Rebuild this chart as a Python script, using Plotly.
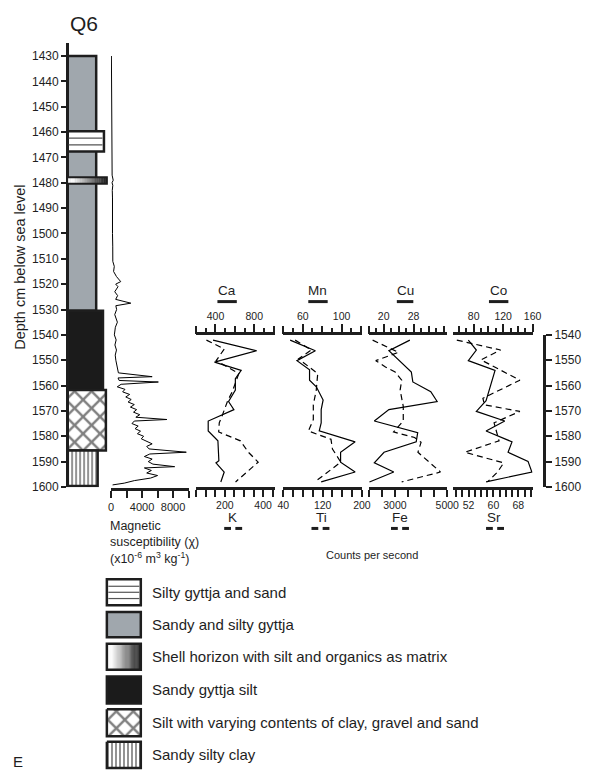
import plotly.graph_objects as go

W, H = 596, 778
INK = '#1e1e1e'
GRAY = '#a0a7ad'
FONT = 'Liberation Sans, Arial, sans-serif'


def px(x):
    return x / W


def py(y):
    return 1 - y / H


# ---------------- data ----------------
depth_ticks = list(range(1430, 1601, 10))
right_ticks = list(range(1540, 1601, 10))

mag_depth = [1430, 1435, 1440, 1445, 1450, 1455, 1460, 1462, 1465, 1468, 1470, 1472, 1475, 1477, 1479, 1480,
             1481, 1483, 1486, 1490, 1495, 1500, 1505, 1508, 1511, 1513, 1515, 1517, 1519, 1520, 1521, 1523,
             1524.5, 1526, 1527.5, 1528.5, 1530, 1532, 1535, 1537, 1540, 1542, 1544, 1546, 1548, 1550, 1552,
             1554, 1555, 1556.5, 1557, 1558, 1558.6, 1559.5, 1560.5, 1561.5, 1562.5, 1563.5, 1564.5, 1565.5,
             1566.5, 1567.5, 1568.5, 1569.5, 1570.5, 1571.5, 1572.5, 1573.4, 1574, 1575, 1576, 1577, 1578,
             1579, 1580, 1581, 1582, 1583, 1584, 1585, 1586.3, 1587, 1588, 1589, 1590, 1591, 1592, 1592.5,
             1593.5, 1594.5, 1595.5, 1596.5, 1597.5, 1598.5, 1599.2]
mag_val = [50, 60, 80, 70, 90, 100, 130, 80, 140, 110, 150, 120, 170, 140, 280, 130,
           230, 160, 190, 170, 200, 190, 220, 250, 230, 420, 330, 700, 1250, 600, 900, 480,
           850, 600, 2550, 620, 720, 480, 820, 560, 430, 660, 500, 700, 540, 620, 720,
           820, 950, 5300, 900, 1050, 6100, 1300, 800, 1800, 1500, 2400, 1900, 2600,
           2200, 3000, 2500, 3300, 2900, 3700, 3200, 7200, 3000, 2700, 3500, 3100, 3800,
           3400, 4200, 3900, 4500, 5300, 4600, 4900, 9700, 5000, 4300, 5300, 4800, 5400, 8200, 4300,
           5200, 4600, 6000, 5100, 3000, 1700, 200]

ca_depth = [1542.1, 1546.3, 1550.8, 1554.0, 1557.3, 1561.8, 1566.3, 1569.5, 1574.0, 1577.9, 1581.8, 1589.6, 1590.5, 1594.1, 1598.0]
ca_val = [375, 825, 390, 665, 605, 605, 535, 590, 325, 325, 425, 435, 405, 490, 455]
k_depth = [1542.1, 1545.6, 1550.2, 1555.3, 1562.4, 1566.0, 1571.5, 1574.7, 1578.3, 1581.8, 1586.3, 1590.2, 1598.0]
k_val = [104, 197, 155, 273, 239, 215, 188, 171, 168, 281, 323, 374, 256]

mn_depth = [1542.1, 1546.3, 1550.2, 1553.8, 1557.9, 1560.5, 1565.7, 1569.5, 1574.7, 1577.9, 1582.2, 1586.3, 1590.2, 1594.1, 1598.0]
mn_val = [47, 73, 54, 67, 67, 74, 81, 79, 79, 77, 114, 99, 99, 114, 79]
ti_depth = [1542.1, 1546.0, 1549.5, 1553.4, 1555.3, 1561.8, 1567.6, 1573.4, 1577.9, 1581.2, 1585.0, 1590.2, 1598.0]
ti_val = [64, 97, 71, 97, 110, 107, 101, 101, 91, 137, 140, 157, 104]

cu_depth = [1542.1, 1546.3, 1554.7, 1558.6, 1562.4, 1566.3, 1569.5, 1574.0, 1578.6, 1582.2, 1586.3, 1590.5, 1594.1, 1598.0]
cu_val = [27.0, 21.4, 27.4, 27.8, 32.6, 34.3, 21.4, 17.5, 29.1, 28.7, 20.1, 17.5, 22.7, 16.2]
fe_depth = [1542.1, 1546.9, 1550.2, 1552.7, 1554.7, 1557.9, 1561.8, 1568.2, 1574.0, 1578.3, 1580.5, 1582.4, 1586.3, 1594.1, 1598.0]
fe_val = [2150, 3140, 2270, 2640, 3010, 3260, 3200, 3320, 3320, 2950, 3750, 4000, 3880, 4740, 3260]

co_depth = [1542.1, 1546.0, 1550.2, 1554.0, 1566.0, 1570.2, 1574.0, 1577.9, 1582.2, 1586.3, 1589.9, 1594.1, 1598.0]
co_val = [72.7, 83.6, 72.7, 109, 96.8, 83.6, 122.2, 96.8, 132, 126.7, 153.8, 159, 96.8]
sr_depth = [1542.1, 1546.0, 1549.9, 1557.9, 1565.0, 1567.6, 1570.2, 1574.7, 1581.8, 1586.3, 1590.5, 1594.1, 1598.0]
sr_val = [48.2, 62.3, 56.0, 68.5, 56.6, 57.1, 68.5, 60.2, 61.8, 50.8, 63.3, 61.3, 58.1]

# top-axis tick sets: (range, labelled ticks, other tall ticks, short ticks)
ca_ticks = ([200, 1010], [400, 800], [200, 600, 1000], [300, 500, 700, 900])
mn_ticks = ([40, 121], [60, 100], [40, 80, 120], [50, 70, 90, 110])
cu_ticks = ([16, 37], [20, 28], [16, 24, 32, 36], [18, 22, 26, 30, 34])
co_ticks = ([52, 160], [80, 120, 160], [60, 100, 140], [70, 90, 110, 130, 150])
# bottom-axis tick sets: (range, labelled ticks, unlabelled ticks)
k_ticks = ([50, 460], [200, 400], [50, 100, 150, 250, 300, 350, 450])
ti_ticks = ([40, 200], [40, 120, 200], [60, 80, 100, 140, 160, 180])
fe_ticks = ([2000, 5000], [3000, 5000], [2000, 2500, 3500, 4000, 4500])
sr_ticks = ([47, 72.6], [52, 60, 68], [48, 50, 54, 56, 58, 62, 64, 66, 70, 72])
mag_ticks = ([0, 10000], [0, 4000, 8000], [2000, 6000, 10000])

litho_top = [1430, 1459.7, 1477.8, 1530.5, 1561.8, 1585.6]
litho_base = [1530.5, 1467.7, 1480.4, 1561.8, 1585.6, 1599.6]
litho_kind = ['gyttja', 'sand', 'shell', 'black', 'cross', 'clay']

legend_kind = ['sand', 'gyttja', 'shell', 'black', 'cross', 'clay']
legend_text = ['Silty gyttja and sand', 'Sandy and silty gyttja',
               'Shell horizon with silt and organics as matrix', 'Sandy gyttja silt',
               'Silt with varying contents of clay, gravel and sand', 'Sandy silty clay']

# ---------------- figure ----------------
fig = go.Figure()
shapes = []
annos = []

COL_LEFT = 63
right_edge = {'gyttja': 93, 'sand': 101, 'shell': 104, 'black': 100, 'cross': 103, 'clay': 94.5}
patterns = {'cross': dict(shape='x', size=12, solidity=0.36),
            'clay': dict(shape='|', size=4, solidity=0.42)}
fills = {'gyttja': GRAY, 'black': '#1b1b1b', 'sand': 'white'}


def grad_color(f):
    v = int(round(250 - 225 * max(0.0, min(1.0, (f - 0.15) / 0.85))))
    return 'rgb(%d,%d,%d)' % (v, v, v)


# lithology column (x axis in pixel units, y in depth)
for top, base, kind in zip(litho_top, litho_base, litho_kind):
    x0, x1 = COL_LEFT, right_edge[kind]
    xs = [x0, x1, x1, x0, x0]
    ys = [top, top, base, base, top]
    if kind in fills:
        fig.add_trace(go.Scatter(x=xs, y=ys, xaxis='x', yaxis='y', mode='lines', fill='toself',
                                 fillcolor=fills[kind], line=dict(color=INK, width=2.5), hoverinfo='skip'))
        if kind == 'sand':
            for f in (1 / 3, 2 / 3):
                yy = top + (base - top) * f
                shapes.append(dict(type='line', xref='x', yref='y', x0=x0 + 1.5, x1=x1 - 1.5, y0=yy, y1=yy,
                                   line=dict(color='#555', width=1.2)))
    elif kind == 'shell':
        n = 24
        for i in range(n):
            a = x0 + (x1 - x0) * i / n
            b = x0 + (x1 - x0) * (i + 1) / n
            shapes.append(dict(type='rect', xref='x', yref='y', x0=a, x1=b + 0.3, y0=top, y1=base,
                               line=dict(width=0), fillcolor=grad_color((i + 0.5) / n)))
        shapes.append(dict(type='rect', xref='x', yref='y', x0=x0, x1=x1, y0=top, y1=base,
                           line=dict(color=INK, width=2)))
    else:
        p = dict(patterns[kind])
        p.update(fgcolor='black', bgcolor='white')
        fig.add_trace(go.Scatter(x=xs, y=ys, xaxis='x', yaxis='y', mode='lines', fill='toself',
                                 fillcolor='white', fillpattern=p,
                                 line=dict(color=INK, width=2.5), hoverinfo='skip'))

# magnetic susceptibility
fig.add_trace(go.Scatter(x=mag_val, y=mag_depth, xaxis='x2', yaxis='y', mode='lines',
                         line=dict(color='black', width=1), hoverinfo='skip'))

# element curves
series = [
    (ca_val, ca_depth, 'x3', 'solid'), (k_val, k_depth, 'x4', 'dash'),
    (mn_val, mn_depth, 'x5', 'solid'), (ti_val, ti_depth, 'x6', 'dash'),
    (cu_val, cu_depth, 'x7', 'solid'), (fe_val, fe_depth, 'x8', 'dash'),
    (co_val, co_depth, 'x9', 'solid'), (sr_val, sr_depth, 'x10', 'dash'),
]
for xv, yv, xa, ds in series:
    fig.add_trace(go.Scatter(x=xv, y=yv, xaxis=xa, yaxis='y2', mode='lines',
                             line=dict(color='black', width=1.2, dash='solid' if ds == 'solid' else '6px,4px'),
                             hoverinfo='skip'))

# legend swatches (pixel overlay)
leg_rows = [(582.7, 609.3), (616, 641.7), (648.3, 675), (681.7, 709.3), (715, 742.7), (748.3, 775)]
LX0, LX1 = 104, 139
for (y0, y1), kind, txt in zip(leg_rows, legend_kind, legend_text):
    xs = [LX0, LX1, LX1, LX0, LX0]
    ys = [y0, y0, y1, y1, y0]
    if kind in ('cross', 'clay'):
        p = dict(patterns[kind])
        p.update(fgcolor='black', bgcolor='white')
        fig.add_trace(go.Scatter(x=xs, y=ys, xaxis='x11', yaxis='y11', mode='lines', fill='toself',
                                 fillcolor='white', fillpattern=p, line=dict(color=INK, width=2.5),
                                 hoverinfo='skip'))
    elif kind == 'shell':
        n = 30
        for i in range(n):
            a = LX0 + (LX1 - LX0) * i / n
            b = LX0 + (LX1 - LX0) * (i + 1) / n
            shapes.append(dict(type='rect', xref='x11', yref='y11', x0=a, x1=b + 0.3, y0=y0, y1=y1,
                               line=dict(width=0), fillcolor=grad_color((i + 0.5) / n)))
        shapes.append(dict(type='rect', xref='x11', yref='y11', x0=LX0, x1=LX1, y0=y0, y1=y1,
                           line=dict(color=INK, width=2.5)))
    else:
        shapes.append(dict(type='rect', xref='x11', yref='y11', x0=LX0, x1=LX1, y0=y0, y1=y1,
                           line=dict(color=INK, width=2.5), fillcolor=fills[kind]))
        if kind == 'sand':
            for f in (0.27, 0.5, 0.74):
                yy = y0 + (y1 - y0) * f
                shapes.append(dict(type='line', xref='x11', yref='y11', x0=LX0 + 1.5, x1=LX1 - 1.5,
                                   y0=yy, y1=yy, line=dict(color='#555', width=1.2)))
    annos.append(dict(x=148, y=(y0 + y1) / 2, text=txt, xanchor='left', font=dict(size=15)))

# text labels
annos.append(dict(x=80, y=17, text='Q6', xanchor='center', font=dict(size=21)))
annos.append(dict(x=15, y=265, text='Depth cm below sea level', textangle=-90, xanchor='center',
                  font=dict(size=14.5)))
annos.append(dict(x=105, y=528, text='Magnetic', xanchor='left', font=dict(size=12.5)))
annos.append(dict(x=105, y=545, text='susceptibility (χ)', xanchor='left', font=dict(size=12.5)))
annos.append(dict(x=105, y=561, text='(x10<sup>-6</sup> m<sup>3</sup> kg<sup>-1</sup>)', xanchor='left',
                  font=dict(size=12.5)))
annos.append(dict(x=377, y=558, text='Counts per second', xanchor='center', font=dict(size=11)))
annos.append(dict(x=12, y=768, text='E', xanchor='center', font=dict(size=15)))

for name, cx, b0, b1 in [('Ca', 228.3, 218, 238), ('Mn', 321.7, 311.7, 331.7),
                         ('Cu', 411.7, 403, 420), ('Co', 508.3, 498, 518)]:
    annos.append(dict(x=cx, y=289, text=name, xanchor='center', font=dict(size=13.5)))
    shapes.append(dict(type='line', xref='x11', yref='y11', x0=b0, x1=b1, y0=300, y1=300,
                       line=dict(color=INK, width=3)))
for name, cx, b0 in [('K', 233.3, 225), ('Ti', 325, 315), ('Fe', 406.7, 397), ('Sr', 503.3, 495)]:
    annos.append(dict(x=cx, y=520, text=name, xanchor='center', font=dict(size=13.5)))
    for s in (0, 1):
        shapes.append(dict(type='line', xref='x11', yref='y11', x0=b0 + s * 11.5, x1=b0 + s * 11.5 + 7,
                           y0=531, y1=531, line=dict(color=INK, width=3)))

for a in annos:
    a.update(xref='x11', yref='y11', yanchor='middle', showarrow=False)
    a['font'] = dict(family=FONT, color=INK, **a['font'])


# ---------------- axes ----------------
def fmt(v):
    return str(int(v)) if float(v).is_integer() else str(v)


def top_axis(dom, spec):
    rng, lab, tall, short = spec
    return dict(domain=[px(dom[0]), px(dom[1])], range=rng, anchor='y2', side='top', showline=True,
                linewidth=2.5, linecolor=INK, ticks='outside', ticklen=8, tickwidth=2, tickcolor=INK,
                tickvals=lab, ticktext=[fmt(v) for v in lab],
                tickfont=dict(size=10.5, color=INK),
                minor=dict(tickvals=short, ticks='outside', ticklen=4, tickwidth=2, tickcolor=INK),
                showgrid=False, zeroline=False, fixedrange=True)


def tall_overlay(base, spec):
    rng, lab, tall, short = spec
    return dict(overlaying=base, range=rng, anchor='y2', side='top', showline=False, ticks='outside',
                ticklen=8, tickwidth=2, tickcolor=INK, tickvals=tall, showticklabels=False,
                showgrid=False, zeroline=False, fixedrange=True)


def bottom_axis(dom, spec, anchor='y2', position=None, size=10.5):
    rng, lab, other = spec
    d = dict(domain=[px(dom[0]), px(dom[1])], range=rng, anchor=anchor, side='bottom', showline=True,
             linewidth=2.5, linecolor=INK, ticks='outside', ticklen=7, tickwidth=2, tickcolor=INK,
             tickvals=lab, ticktext=[fmt(v) for v in lab], tickfont=dict(size=size, color=INK),
             minor=dict(tickvals=other, ticks='outside', ticklen=7, tickwidth=2, tickcolor=INK),
             showgrid=False, zeroline=False, fixedrange=True)
    if position is not None:
        d['position'] = position
    return d


P1, P2, P3, P4 = (196, 277), (286, 367), (374, 455), (461, 543)

layout = dict(
    width=W, height=H, margin=dict(l=0, r=0, t=0, b=0), showlegend=False,
    paper_bgcolor='white', plot_bgcolor='rgba(0,0,0,0)',
    font=dict(family=FONT, color=INK, size=12),
    xaxis=dict(domain=[px(62), px(110)], range=[62, 110], anchor='y', visible=False, fixedrange=True),
    yaxis=dict(domain=[py(489), py(37)], range=[1600.1, 1425], anchor='free', position=px(62.7),
               side='left', showline=True, linewidth=2.5, linecolor=INK, ticks='outside', ticklen=5,
               tickwidth=2, tickcolor=INK, tickvals=depth_ticks, tickfont=dict(size=12, color=INK),
               showgrid=False, zeroline=False, fixedrange=True),
    xaxis2=bottom_axis((108.3, 188.3), mag_ticks, anchor='free', position=py(491), size=11),
    yaxis2=dict(domain=[py(488.8), py(333.8)], range=[1600, 1540], anchor='free', position=px(555),
                side='right', showline=True, linewidth=2.5, linecolor=INK, ticks='outside', ticklen=6,
                tickwidth=2, tickcolor=INK, tickvals=right_ticks, tickfont=dict(size=12, color=INK),
                showgrid=False, zeroline=False, fixedrange=True),
    xaxis3=top_axis(P1, ca_ticks),
    xaxis4=bottom_axis(P1, k_ticks),
    xaxis5=top_axis(P2, mn_ticks),
    xaxis6=bottom_axis(P2, ti_ticks),
    xaxis7=top_axis(P3, cu_ticks),
    xaxis8=bottom_axis(P3, fe_ticks),
    xaxis9=top_axis(P4, co_ticks),
    xaxis10=bottom_axis(P4, sr_ticks),
    xaxis12=tall_overlay('x3', ca_ticks),
    xaxis13=tall_overlay('x5', mn_ticks),
    xaxis14=tall_overlay('x7', cu_ticks),
    xaxis15=tall_overlay('x9', co_ticks),
    xaxis11=dict(domain=[0, 1], range=[0, W], anchor='y11', visible=False, fixedrange=True),
    yaxis11=dict(domain=[0, 1], range=[H, 0], anchor='x11', visible=False, fixedrange=True),
    shapes=shapes, annotations=annos,
)
fig.update_layout(**layout)

# invisible helper traces so the tall-tick overlay axes are rendered
for xa, spec in (('x12', ca_ticks), ('x13', mn_ticks), ('x14', cu_ticks), ('x15', co_ticks)):
    fig.add_trace(go.Scatter(x=[spec[0][0]], y=[1600], xaxis=xa, yaxis='y2', mode='markers',
                             marker=dict(opacity=0), hoverinfo='skip'))

fig.write_html('out.html')
